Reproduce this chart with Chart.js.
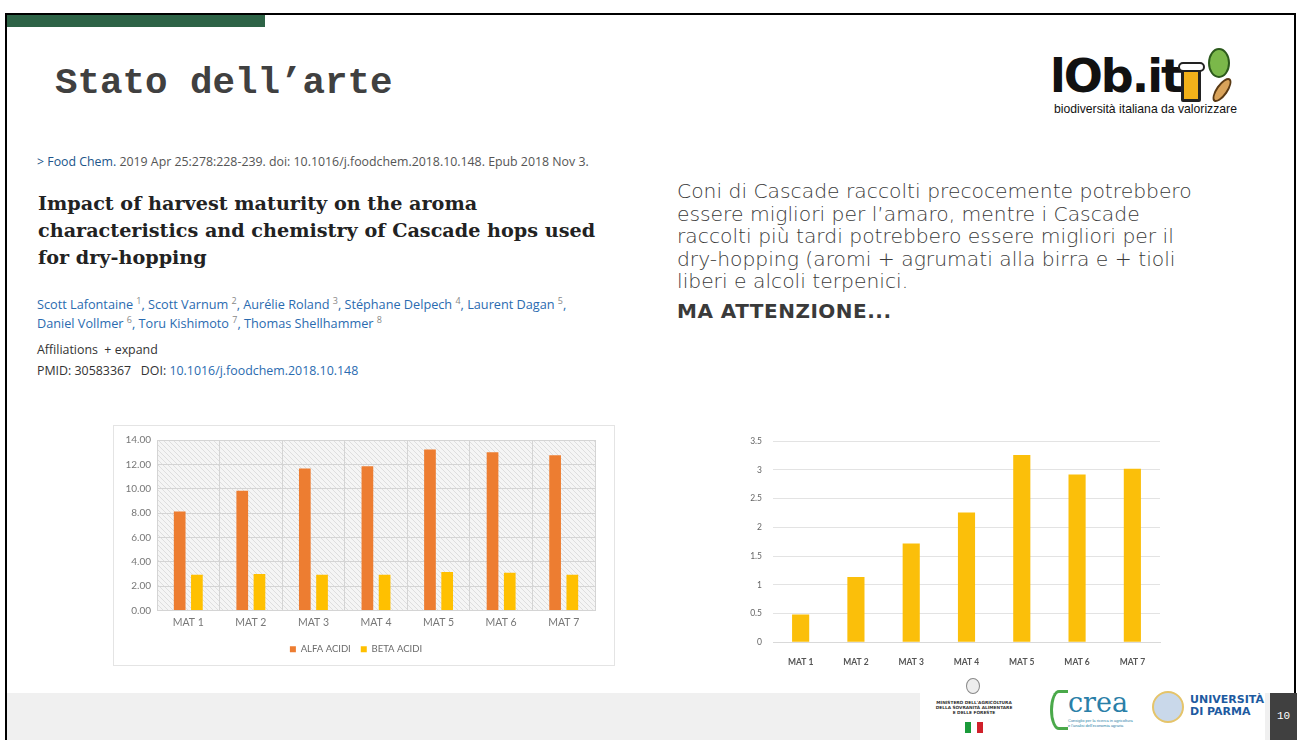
<!DOCTYPE html>
<html>
<head>
<meta charset="utf-8">
<script src="https://cdn.jsdelivr.net/npm/chart.js@4.4.0/dist/chart.umd.min.js"></script>
<style>
  html,body{margin:0;padding:0;}
  body{width:1297px;height:740px;position:relative;overflow:hidden;background:#fff;font-family:"Open Sans",sans-serif;}
  .abs{position:absolute;}
  #frame{left:5px;top:13px;width:1287px;height:740px;border-top:2px solid #000;border-left:2px solid #000;border-right:2px solid #000;}
  #greenbar{left:7px;top:15px;width:258px;height:12px;background:#2d6346;}
  #title{left:55px;top:62px;font-family:"Liberation Mono",monospace;font-weight:bold;font-size:37.5px;color:#404040;white-space:nowrap;}
  #cite{left:37px;top:153px;font-size:12.35px;color:#555;white-space:nowrap;font-family:"Open Sans",sans-serif;}
  #cite .blue{color:#20558a;}
  #ptitle{left:38px;top:190px;font-family:"DejaVu Serif",serif;font-weight:bold;font-size:19.2px;line-height:27px;color:#222;white-space:nowrap;}
  #authors{left:37px;top:295px;font-size:12.7px;line-height:19px;color:#2a6bb0;white-space:nowrap;}
  #authors sup{color:#888;font-size:9px;line-height:0;vertical-align:5px;}
  #affil{left:37px;top:341px;font-size:12.4px;color:#333;white-space:nowrap;}
  #pmid{left:37px;top:362px;font-size:12.4px;color:#333;white-space:nowrap;}
  #pmid .blue{color:#2a6bb0;}
  #para{left:677px;top:180px;font-family:"DejaVu Sans",sans-serif;font-size:20.3px;line-height:22.6px;color:#3a3a3a;font-weight:300;white-space:nowrap;}
  #warn{left:677px;top:299px;font-family:"DejaVu Sans",sans-serif;font-weight:bold;font-size:20px;letter-spacing:0.5px;color:#3a3a3a;white-space:nowrap;}
  #leftbox{left:113px;top:425px;width:502px;height:241px;border:1px solid #e4e4e4;box-sizing:border-box;background:#fff;}
  #footer{left:7px;top:693px;width:1263px;height:47px;background:#f0f0f0;}
  #logowhite{left:920px;top:672px;width:345px;height:68px;background:#fff;}
  #pagebox{left:1270px;top:693px;width:27px;height:47px;background:#404040;color:#fff;font-family:"Liberation Mono",monospace;font-size:11px;line-height:47px;text-align:center;}
</style>
</head>
<body>
<div id="frame" class="abs"></div>
<div id="greenbar" class="abs"></div>
<div id="title" class="abs">Stato dell’arte</div>

<!-- logo top right -->
<div class="abs" style="left:1050px;top:50px;font-family:'DejaVu Sans',sans-serif;font-weight:bold;font-size:46px;letter-spacing:-2px;color:#111;line-height:52px;">lOb.it</div>
<div class="abs" style="left:1181px;top:68px;width:20px;height:34px;background:#f2b11a;border:3px solid #222;border-radius:2px;box-sizing:border-box;"></div>
<div class="abs" style="left:1178px;top:62px;width:27px;height:10px;background:#fff;border:2px solid #222;border-radius:6px;box-sizing:border-box;"></div>
<div class="abs" style="left:1208px;top:48px;width:22px;height:30px;background:#7bb84a;border:2px solid #2c5a1c;border-radius:50%;box-sizing:border-box;"></div>
<div class="abs" style="left:1216px;top:76px;width:12px;height:28px;background:#d9a35a;border:2px solid #5a3a14;border-radius:50%;transform:rotate(35deg);box-sizing:border-box;"></div>
<div class="abs" style="left:1054px;top:102px;font-family:'Liberation Sans',sans-serif;font-size:12.2px;color:#111;white-space:nowrap;">biodiversità italiana da valorizzare</div>

<div id="cite" class="abs"><span style="color:#20558a">&gt;</span> <span class="blue">Food Chem.</span> 2019 Apr 25:278:228-239. doi: 10.1016/j.foodchem.2018.10.148. Epub 2018 Nov 3.</div>
<div id="ptitle" class="abs">Impact of harvest maturity on the aroma<br>characteristics and chemistry of Cascade hops used<br>for dry-hopping</div>
<div id="authors" class="abs">Scott Lafontaine <sup>1</sup>, Scott Varnum <sup>2</sup>, Aurélie Roland <sup>3</sup>, Stéphane Delpech <sup>4</sup>, Laurent Dagan <sup>5</sup>,<br>Daniel Vollmer <sup>6</sup>, Toru Kishimoto <sup>7</sup>, Thomas Shellhammer <sup>8</sup></div>
<div id="affil" class="abs">Affiliations &nbsp;+ expand</div>
<div id="pmid" class="abs">PMID: 30583367 &nbsp;&nbsp;DOI: <span class="blue">10.1016/j.foodchem.2018.10.148</span></div>

<div id="para" class="abs">Coni di Cascade raccolti precocemente potrebbero<br>essere migliori per l’amaro, mentre i Cascade<br>raccolti più tardi potrebbero essere migliori per il<br>dry-hopping (aromi + agrumati alla birra e + tioli<br>liberi e alcoli terpenici.</div>
<div id="warn" class="abs">MA ATTENZIONE...</div>

<div id="leftbox" class="abs"></div>
<div class="abs" style="left:113px;top:425px;width:502px;height:241px;"><canvas id="c1" width="502" height="241"></canvas></div>
<div class="abs" style="left:735px;top:425px;width:440px;height:245px;"><canvas id="c2" width="440" height="245"></canvas></div>

<div id="footer" class="abs"></div>
<div id="logowhite" class="abs"></div>
<!-- ministry logo -->
<div class="abs" style="left:966px;top:678px;width:14px;height:16px;border:1px solid #888;border-radius:50%;box-sizing:border-box;background:#eee;"></div>
<div class="abs" style="left:928px;top:700px;width:92px;font-family:'DejaVu Sans',sans-serif;font-weight:bold;font-size:4.3px;line-height:5px;color:#333;text-align:center;">MINISTERO DELL'AGRICOLTURA<br>DELLA SOVRANITÀ ALIMENTARE<br>E DELLE FORESTE</div>
<div class="abs" style="left:965px;top:722px;width:6px;height:11px;background:#1a9a3a;"></div>
<div class="abs" style="left:971px;top:722px;width:6px;height:11px;background:#fff;"></div>
<div class="abs" style="left:977px;top:722px;width:6px;height:11px;background:#d0202a;"></div>
<!-- crea logo -->
<div class="abs" style="left:1050px;top:690px;width:18px;height:40px;border:3px solid #4aa94a;border-right:none;border-radius:50% 0 0 50%;box-sizing:border-box;"></div>
<div class="abs" style="left:1068px;top:688px;font-family:'DejaVu Serif',serif;font-size:27px;color:#2a7fa8;line-height:30px;">crea</div>
<div class="abs" style="left:1068px;top:718px;font-family:'Liberation Sans',sans-serif;font-size:4px;line-height:5px;color:#2a7fa8;">Consiglio per la ricerca in agricoltura<br>e l'analisi dell'economia agraria</div>
<!-- parma logo -->
<div class="abs" style="left:1152px;top:691px;width:32px;height:32px;border:2px solid #e5c46a;border-radius:50%;background:#c9d8ea;box-sizing:border-box;"></div>
<div class="abs" style="left:1190px;top:694px;font-family:'DejaVu Sans',sans-serif;font-weight:bold;font-size:11px;line-height:12px;color:#1d5aa0;">UNIVERSITÀ<br>DI PARMA</div>
<div id="pagebox" class="abs">10</div>

<script>
// ---------- data ----------
const categoriesLeft = ['MAT 1','MAT 2','MAT 3','MAT 4','MAT 5','MAT 6','MAT 7'];
const alfaAcidi = [8.12, 9.84, 11.65, 11.84, 13.23, 12.99, 12.74];
const betaAcidi = [2.93, 3.00, 2.93, 2.93, 3.17, 3.09, 2.93];
const seriesNamesLeft = ['ALFA ACIDI','BETA ACIDI'];
const leftTickMax = 14;
const leftTickStep = 2;

const categoriesRight = ['MAT 1','MAT 2','MAT 3','MAT 4','MAT 5','MAT 6','MAT 7'];
const rightValues = [0.485, 1.135, 1.72, 2.26, 3.26, 2.92, 3.02];
const rightTickMax = 3.5;
const rightTickStep = 0.5;

// ---------- plugins ----------
const hatchPlugin = {
  id: 'hatch',
  beforeDraw(chart) {
    const {ctx, chartArea: a} = chart;
    const t = document.createElement('canvas');
    t.width = 5; t.height = 5;
    const pc = t.getContext('2d');
    pc.fillStyle = '#f5f5f5'; pc.fillRect(0,0,5,5);
    pc.strokeStyle = '#dedede'; pc.lineWidth = 1;
    pc.beginPath(); pc.moveTo(-1,-1); pc.lineTo(6,6); pc.stroke();
    ctx.save();
    ctx.fillStyle = ctx.createPattern(t,'repeat');
    ctx.fillRect(a.left, a.top, a.right - a.left, a.bottom - a.top);
    ctx.restore();
  }
};

// ---------- left chart ----------
new Chart(document.getElementById('c1'), {
  type: 'bar',
  data: {
    labels: categoriesLeft,
    datasets: [
      {label: seriesNamesLeft[0], data: alfaAcidi, backgroundColor: '#ed7d31', categoryPercentage: 0.55, barPercentage: 0.68},
      {label: seriesNamesLeft[1], data: betaAcidi, backgroundColor: '#ffc000', categoryPercentage: 0.55, barPercentage: 0.68}
    ]
  },
  options: {
    responsive: false, animation: false,
    layout: {padding: {left: 4, right: 20, top: 15, bottom: 2}},
    plugins: {
      tooltip: {enabled: false},
      legend: {
        position: 'bottom',
        labels: {boxWidth: 6, boxHeight: 6, padding: 10, color: '#6a6a6a', font: {family: 'Lato', size: 9.5}}
      }
    },
    scales: {
      x: {
        grid: {color: '#d4d4d4', drawTicks: false},
        border: {display: true, color: '#d4d4d4'},
        ticks: {color: '#777', font: {family: 'Lato', size: 10.5}, padding: 6},
        afterFit: s => { s.height = 24; }
      },
      y: {
        min: 0, max: leftTickMax,
        grid: {color: '#d4d4d4', drawTicks: false},
        border: {display: true, color: '#d4d4d4'},
        ticks: {stepSize: leftTickStep, color: '#777', font: {family: 'Lato', size: 10}, padding: 6,
                callback: v => Number(v).toFixed(2)},
        afterFit: s => { s.width = 40; }
      }
    }
  },
  plugins: [hatchPlugin]
});

// ---------- right chart ----------
new Chart(document.getElementById('c2'), {
  type: 'bar',
  data: {
    labels: categoriesRight,
    datasets: [{label: 'valori', data: rightValues, backgroundColor: '#fbbf0a', categoryPercentage: 1, barPercentage: 0.31}]
  },
  options: {
    responsive: false, animation: false,
    layout: {padding: {left: 0, right: 15, top: 13, bottom: 0}},
    plugins: {legend: {display: false}, tooltip: {enabled: false}},
    scales: {
      x: {
        grid: {display: false},
        border: {display: true, color: '#d9d9d9'},
        ticks: {color: '#555', font: {family: 'Lato', size: 8.5, weight: 'bold'}, padding: 7},
        afterFit: s => { s.height = 27.7; }
      },
      y: {
        min: 0, max: rightTickMax,
        grid: {color: '#e3e3e3', drawTicks: false},
        border: {display: false},
        ticks: {stepSize: rightTickStep, color: '#666', font: {family: 'Lato', size: 8.5}, padding: 11,
                callback: v => String(v)},
        afterFit: s => { s.width = 38; }
      }
    }
  }
});
</script>
</body>
</html>
